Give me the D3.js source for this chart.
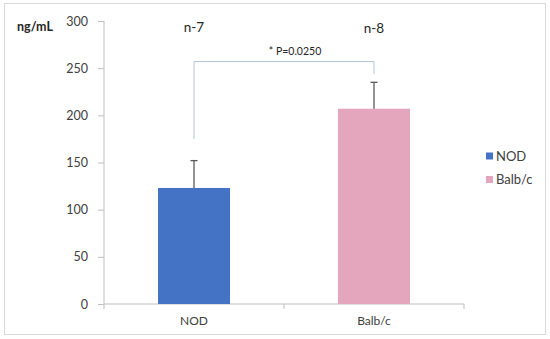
<!DOCTYPE html>
<html><head><meta charset="utf-8">
<script src="https://cdn.jsdelivr.net/npm/d3@7"></script>
<style>body{margin:0;background:#fff}svg{display:block;font-family:Lato,"Open Sans",sans-serif}</style>
</head><body><svg id="c" width="550" height="339"></svg>
<script>
const categories = ["NOD", "Balb/c"];
const means = [123, 207];
const errors = [29, 28];
const nLabels = ["n-7", "n-8"];
const yTicks = [0, 50, 100, 150, 200, 250, 300];
const colors = ["#4472C4", "#E3A6BD"];
const sigLabel = "* P=0.0250";
const bracketLevels = [175, 257, 244]; // left foot, top, right foot (value units)
const yLabel = "ng/mL";

const svg = d3.select("#c");
svg.append("rect").attr("x",4.5).attr("y",3.5).attr("width",541).attr("height",331)
  .attr("fill","#fff").attr("stroke","#D9D9D9");

const x = d3.scaleBand().domain(categories).range([104,464]).paddingInner(0.6).paddingOuter(0.3);
const y = d3.scaleLinear().domain([0,300]).range([304,21]);

// y axis
const ya = svg.append("g").attr("transform","translate(104,0)")
  .call(d3.axisLeft(y).tickValues(yTicks).tickSize(6).tickPadding(10));
ya.select(".domain").attr("stroke","#BFBFBF").attr("d","M0,21V304");
ya.selectAll(".tick line").attr("stroke","#BFBFBF");
ya.selectAll("text").attr("font-size",12.5).attr("fill","#404040").attr("font-family","Lato");

// x axis
const xa = svg.append("g").attr("transform","translate(0,304)")
  .call(d3.axisBottom(x).tickSize(0).tickPadding(12));
xa.select(".domain").attr("stroke","#BFBFBF").attr("d","M104,0H464");
xa.selectAll("text").attr("font-size",12).attr("fill","#404040").attr("font-family","Lato");
// category boundary ticks
const bw = x.bandwidth(), step = x.step();
const bounds = [x.range()[0], x(categories[0]) + bw + (step - bw)/2, x.range()[1]];
svg.append("g").selectAll("line").data(bounds).join("line")
  .attr("x1",d=>d).attr("x2",d=>d).attr("y1",304).attr("y2",309).attr("stroke","#BFBFBF");

// bars
svg.append("g").selectAll("rect").data(categories).join("rect")
  .attr("x",d=>x(d)).attr("width",bw)
  .attr("y",(d,i)=>y(means[i])).attr("height",(d,i)=>y(0)-y(means[i]))
  .attr("fill",(d,i)=>colors[i]);

// error bars
const eb = svg.append("g").attr("stroke","#595959").attr("stroke-width",1.3);
categories.forEach((c,i)=>{
  const cx = x(c)+bw/2;
  eb.append("line").attr("x1",cx).attr("x2",cx).attr("y1",y(means[i])).attr("y2",y(means[i]+errors[i]));
  eb.append("line").attr("x1",cx-3.5).attr("x2",cx+3.5).attr("y1",y(means[i]+errors[i])).attr("y2",y(means[i]+errors[i]));
});

// significance bracket
const cx0 = x(categories[0])+bw/2, cx1 = x(categories[1])+bw/2;
svg.append("path")
  .attr("d",`M${cx0},${y(bracketLevels[0])}V${y(bracketLevels[1])}H${cx1}V${y(bracketLevels[2])}`)
  .attr("fill","none").attr("stroke","#B4C3DA").attr("stroke-width",1);
svg.append("text").attr("x",295).attr("y",55).attr("text-anchor","middle")
  .attr("font-size",10.5).attr("fill","#262626").text(sigLabel);

// n labels
svg.append("g").selectAll("text").data(categories).join("text")
  .attr("x",d=>x(d)+bw/2).attr("y",(d,i)=>i===0?32:33)
  .attr("text-anchor","middle").attr("font-size",13.5).attr("fill","#262626")
  .text((d,i)=>nLabels[i]);

// y label
svg.append("text").attr("x",17).attr("y",31).attr("font-size",12.5).attr("font-weight","bold")
  .attr("fill","#262626").text(yLabel);

// legend
const lg = svg.append("g").selectAll("g").data(categories).join("g")
  .attr("transform",(d,i)=>`translate(486,${156+i*23.5})`);
lg.append("rect").attr("x",0).attr("y",-3.5).attr("width",7).attr("height",7).attr("fill",(d,i)=>colors[i]);
lg.append("text").attr("x",10).attr("y",4.5).attr("font-size",13).attr("fill","#404040").text(d=>d);
</script></body></html>
